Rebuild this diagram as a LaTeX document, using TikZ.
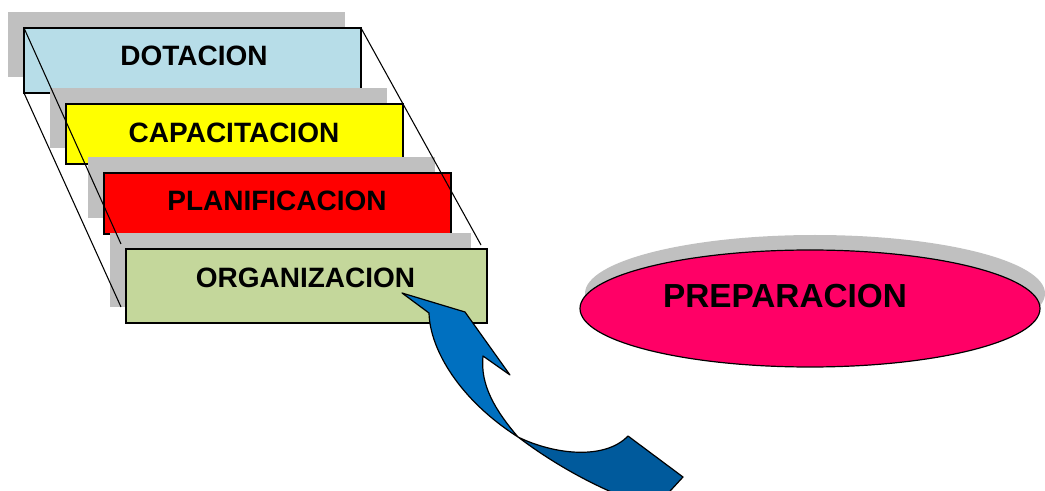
\documentclass[tikz,border=0pt]{standalone}
\usepackage{fontspec}
\setmainfont{Liberation Sans}
\begin{document}
\begin{tikzpicture}[x=0.75pt,y=-0.75pt,
  shadowfill/.style={fill=shadowgray},
  stepbox/.style={draw=black,line width=1.3pt},
  lbl/.style={font=\fontsize{21}{24}\selectfont\bfseries,inner sep=0pt,anchor=base},
  slant/.style={draw=black,line width=0.8pt},
  arrowpart/.style={draw=black,line width=0.9pt,line join=round}]
\definecolor{shadowgray}{HTML}{C0C0C0}
\definecolor{dotcol}{HTML}{B7DDE8}
\definecolor{capcol}{HTML}{FFFF00}
\definecolor{plancol}{HTML}{FF0000}
\definecolor{orgcol}{HTML}{C4D79B}
\definecolor{prepcol}{HTML}{FF0066}
\definecolor{arrlight}{HTML}{0070C0}
\definecolor{arrdark}{HTML}{005A9C}
\useasboundingbox (0,0) rectangle (1045,491);
\clip (0,0) rectangle (1045,491);
% stacked boxes
\path[shadowfill] (8,12) rectangle (345,77);
\path[stepbox,fill=dotcol] (24,28) rectangle (361,93);
\path[shadowfill] (50,88) rectangle (387,148);
\path[stepbox,fill=capcol] (66,104) rectangle (403,164);
\path[shadowfill] (88,157) rectangle (435,218);
\path[stepbox,fill=plancol] (104,173) rectangle (451,234);
\path[shadowfill] (110,233) rectangle (471,307);
\path[stepbox,fill=orgcol] (126,249) rectangle (487,323);
\node[lbl] (dot) at (194,66) {DOTACION};
\node[lbl] (cap) at (234,142.7) {CAPACITACION};
\node[lbl] (plan) at (277,211) {PLANIFICACION};
\node[lbl] (org) at (305.5,287.3) {ORGANIZACION};
% slanted lines
\coordinate (l1a) at (24,28);
\coordinate (l1b) at (121,244);
\coordinate (l2a) at (24,93);
\coordinate (l2b) at (121,307);
\coordinate (r1a) at (361,28);
\coordinate (r1b) at (481,245);
\draw[slant] (l1a) -- (l1b);
\draw[slant] (l2a) -- (l2b);
\draw[slant] (r1a) -- (r1b);
% ellipse
\fill[shadowgray] (815,293.5) ellipse (230 and 58.5);
\filldraw[fill=prepcol,draw=black,line width=0.9pt] (810,308.5) ellipse (230 and 58.5);
\node[inner sep=0pt,anchor=base,font=\fontsize{25}{28}\selectfont\bfseries] (prep) at (785,307.3) {PREPARACION};
% curved arrow
\filldraw[arrowpart,fill=arrdark] (518,437) .. controls (555,465) and (600,490) .. (645,505)
  -- (660,502) -- (683,477) -- (628,436) .. controls (605,460) and (555,455) .. (518,437) -- cycle;
\filldraw[arrowpart,fill=arrlight] (429,313) .. controls (430,350) and (460,400) .. (518,437)
  .. controls (495,410) and (480,385) .. (483,356) -- (510,375) -- (465,312) -- (402,293) -- cycle;
\end{tikzpicture}
\end{document}
